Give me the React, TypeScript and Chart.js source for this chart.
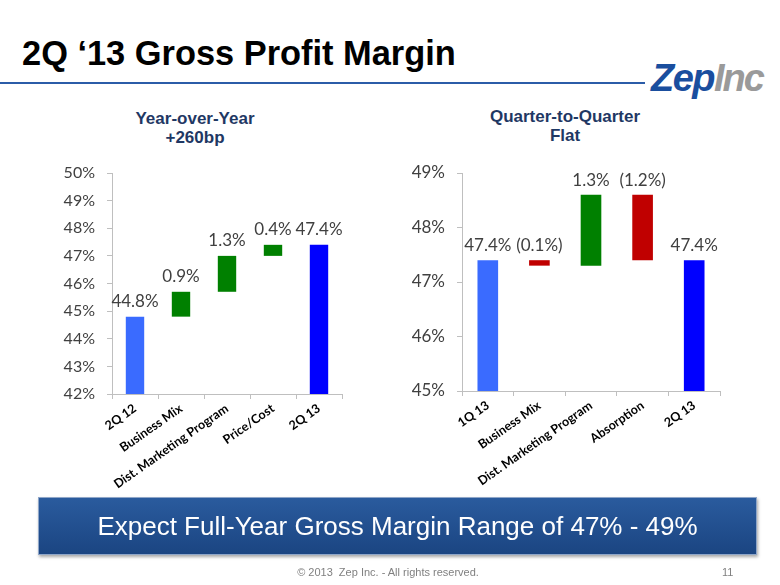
import React, { useEffect, useRef } from "react";
import { Chart, registerables } from "chart.js";

Chart.register(...registerables);

// ---- Data ----
const yoyCategories = ["2Q 12", "Business Mix", "Dist. Marketing Program", "Price/Cost", "2Q 13"];
const yoyStart = [42, 44.8, 45.7, 47.0, 42];
const yoyEnd = [44.8, 45.7, 47.0, 47.4, 47.4];
const yoyLabels = ["44.8%", "0.9%", "1.3%", "0.4%", "47.4%"];
const yoyKinds = ["start", "up", "up", "up", "end"];
const yoyMin = 42;
const yoyMax = 50;

const qoqCategories = ["1Q 13", "Business Mix", "Dist. Marketing Program", "Absorption", "2Q 13"];
const qoqStart = [45, 47.4, 47.3, 48.6, 45];
const qoqEnd = [47.4, 47.3, 48.6, 47.4, 47.4];
const qoqLabels = ["47.4%", "(0.1%)", "1.3%", "(1.2%)", "47.4%"];
const qoqKinds = ["start", "down", "up", "down", "end"];
const qoqMin = 45;
const qoqMax = 49;

const kindColor: Record<string, string> = {
  start: "#3A6BFF",
  end: "#0000FF",
  up: "#008000",
  down: "#C00000",
};

const labelPlugin = {
  id: "barLabels",
  afterDatasetsDraw(chart: any, _args: any, opts: any) {
    const ctx = chart.ctx;
    const meta = chart.getDatasetMeta(0);
    const labels: string[] = opts.labels || [];
    ctx.save();
    ctx.font = `${opts.size || 17}px Lato`;
    ctx.fillStyle = "#404040";
    ctx.textAlign = "center";
    ctx.textBaseline = "alphabetic";
    meta.data.forEach((el: any, i: number) => {
      const top = Math.min(el.y, el.base);
      ctx.fillText(labels[i], el.x, top - (opts.offset || 8));
    });
    ctx.restore();
  },
};

function makeConfig(
  cats: string[],
  start: number[],
  end: number[],
  kinds: string[],
  labels: string[],
  min: number,
  max: number,
  yWidth: number,
  xHeight: number,
  padRight: number,
  tickSize: number,
  labelOffset: number
): any {
  return {
    type: "bar",
    data: {
      labels: cats,
      datasets: [
        {
          data: cats.map((_, i) => [start[i], end[i]]),
          backgroundColor: kinds.map((k) => kindColor[k]),
          borderWidth: 0,
          borderSkipped: false,
          barPercentage: 0.4,
          categoryPercentage: 1,
        },
      ],
    },
    plugins: [labelPlugin],
    options: {
      animation: false,
      responsive: false,
      maintainAspectRatio: false,
      layout: { padding: { top: 23, right: padRight, left: 0, bottom: 0 } },
      plugins: {
        legend: { display: false },
        tooltip: { enabled: false },
        barLabels: { labels, size: 17, offset: labelOffset },
      },
      scales: {
        x: {
          grid: {
            display: true,
            drawOnChartArea: false,
            drawTicks: true,
            tickLength: 5,
            color: "#BFBFBF",
            offset: true,
          },
          border: { color: "#BFBFBF" },
          ticks: {
            minRotation: 35,
            maxRotation: 35,
            autoSkip: false,
            padding: 2,
            color: "#000000",
            font: { family: "Lato", weight: "bold", size: 12.5 },
          },
          afterFit: (s: any) => {
            s.height = xHeight;
          },
        },
        y: {
          min,
          max,
          grid: {
            display: true,
            drawOnChartArea: false,
            drawTicks: true,
            tickLength: 5,
            color: "#BFBFBF",
          },
          border: { color: "#BFBFBF" },
          ticks: {
            stepSize: 1,
            padding: 12,
            color: "#404040",
            font: { family: "Lato", size: tickSize },
            callback: (v: any) => v + "%",
          },
          afterFit: (s: any) => {
            s.width = yWidth;
          },
        },
      },
    },
  };
}

function ChartBox(props: { config: any; left: number; top: number; width: number; height: number }) {
  const ref = useRef<HTMLCanvasElement>(null);
  useEffect(() => {
    if (!ref.current) return;
    const c = new Chart(ref.current, props.config);
    return () => c.destroy();
  }, []);
  return (
    <canvas
      ref={ref}
      width={props.width}
      height={props.height}
      style={{
        position: "absolute",
        left: props.left,
        top: props.top,
        width: props.width,
        height: props.height,
      }}
    />
  );
}

const abs = (o: React.CSSProperties): React.CSSProperties => ({ position: "absolute", ...o });

export default function App() {
  const yoyConfig = makeConfig(yoyCategories, yoyStart, yoyEnd, yoyKinds, yoyLabels, yoyMin, yoyMax, 82, 101, 18, 16, 10);
  const qoqConfig = makeConfig(qoqCategories, qoqStart, qoqEnd, qoqKinds, qoqLabels, qoqMin, qoqMax, 72, 104, 15, 17, 9);
  const sub: React.CSSProperties = {
    fontFamily: "'Liberation Sans', Arial, sans-serif",
    fontWeight: "bold",
    fontSize: 17,
    lineHeight: "19px",
    color: "#1F3864",
    textAlign: "center",
    width: 240,
  };
  return (
    <div
      style={{
        position: "absolute",
        left: 0,
        top: 0,
        width: 780,
        height: 585,
        background: "#ffffff",
        overflow: "hidden",
      }}
    >
      <div
        style={abs({
          left: 22,
          top: 33,
          fontFamily: "'Liberation Sans', Arial, sans-serif",
          fontWeight: "bold",
          fontSize: 34.4,
          lineHeight: "40px",
          color: "#000",
          whiteSpace: "nowrap",
        })}
      >
        2Q ‘13 Gross Profit Margin
      </div>
      <div style={abs({ left: 0, top: 82, width: 645, height: 2, background: "#2B5CA8" })} />
      <div
        style={abs({
          left: 651,
          top: 56,
          fontFamily: "'Liberation Sans', Arial, sans-serif",
          fontWeight: "bold",
          fontStyle: "italic",
          fontSize: 38,
          lineHeight: "44px",
          whiteSpace: "nowrap",
          letterSpacing: -1.5,
        })}
      >
        <span style={{ color: "#1A4E9E" }}>Zep</span>
        <span style={{ color: "#9A9A9A", letterSpacing: -2 }}>Inc</span>
      </div>

      <div style={abs({ ...sub, left: 75, top: 109 })}>
        Year-over-Year
        <br />
        +260bp
      </div>
      <div style={abs({ ...sub, left: 445, top: 107 })}>
        Quarter-to-Quarter
        <br />
        Flat
      </div>

      <ChartBox config={yoyConfig} left={30} top={150} width={330} height={345} />
      <ChartBox config={qoqConfig} left={390} top={150} width={345} height={345} />

      <div
        style={abs({
          left: 38,
          top: 497,
          width: 717,
          height: 56,
          background: "linear-gradient(#2A5B9E, #1B4582)",
          border: "1px solid #8FA6C8",
          boxShadow: "1px 2px 3px rgba(0,0,0,0.35)",
          color: "#ffffff",
          fontFamily: "'Liberation Sans', Arial, sans-serif",
          fontSize: 26,
          lineHeight: "56px",
          textAlign: "center",
          whiteSpace: "nowrap",
        })}
      >
        Expect Full-Year Gross Margin Range of 47% - 49%
      </div>

      <div
        style={abs({
          left: 238,
          top: 566,
          width: 300,
          textAlign: "center",
          fontFamily: "'Liberation Sans', Arial, sans-serif",
          fontSize: 11,
          lineHeight: "13px",
          color: "#808080",
          whiteSpace: "pre",
        })}
      >
        {"© 2013  Zep Inc. - All rights reserved."}
      </div>
      <div
        style={abs({
          left: 722,
          top: 566,
          fontFamily: "'Liberation Sans', Arial, sans-serif",
          fontSize: 11,
          lineHeight: "13px",
          color: "#808080",
        })}
      >
        11
      </div>
    </div>
  );
}
